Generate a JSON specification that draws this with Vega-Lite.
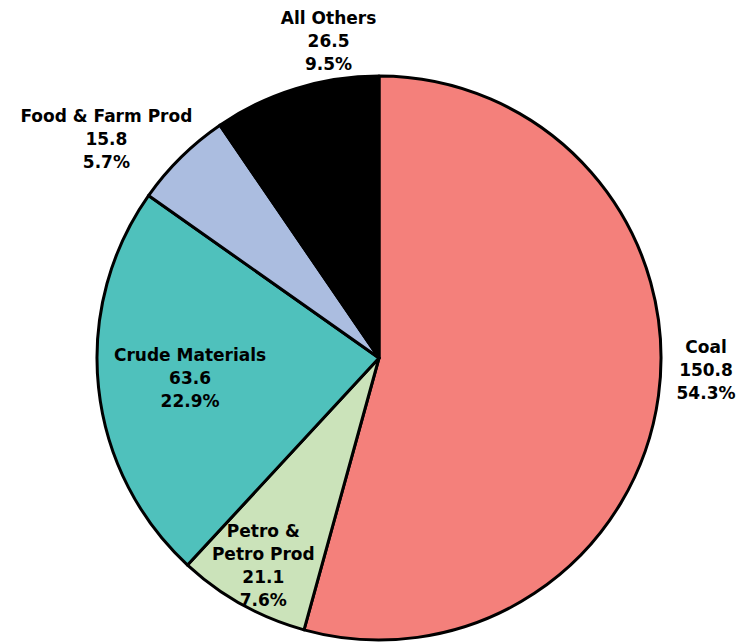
{
  "$schema": "https://vega.github.io/schema/vega-lite/v6.json",
  "width": 720,
  "height": 572,
  "padding": {"left": 19, "top": 72, "right": 0, "bottom": 0},
  "autosize": {"type": "none"},
  "background": "white",
  "config": {"view": {"stroke": null}},
  "data": {
    "values": [
      {"rank": 1, "category": "Coal", "name": "Coal", "value": 150.8, "pct": "54.3%"},
      {"rank": 2, "category": "Petro & Petro Prod", "name": "Petro &\nPetro Prod", "value": 21.1, "pct": "7.6%"},
      {"rank": 3, "category": "Crude Materials", "name": "Crude Materials", "value": 63.6, "pct": "22.9%"},
      {"rank": 4, "category": "Food & Farm Prod", "name": "Food & Farm Prod", "value": 15.8, "pct": "5.7%"},
      {"rank": 5, "category": "All Others", "name": "All Others", "value": 26.5, "pct": "9.5%"}
    ]
  },
  "transform": [
    {"stack": "value", "groupby": [], "sort": [{"field": "rank", "order": "ascending"}], "as": ["v0", "v1"]},
    {"calculate": "(datum.v0 + datum.v1) / 2", "as": "mid"},
    {"calculate": "datum.name + '\\n' + format(datum.value, '.1f') + '\\n' + datum.pct", "as": "label"}
  ],
  "layer": [
    {
      "mark": {"type": "arc", "outerRadius": 282, "stroke": "black", "strokeWidth": 3, "strokeJoin": "round"},
      "encoding": {
        "theta": {"field": "v0", "type": "quantitative", "scale": {"domain": [0, 277.8]}},
        "theta2": {"field": "v1"},
        "color": {
          "field": "category",
          "type": "nominal",
          "legend": null,
          "scale": {
            "domain": ["Coal", "Petro & Petro Prod", "Crude Materials", "Food & Farm Prod", "All Others"],
            "range": ["#F4807B", "#CBE3BA", "#4FC1BC", "#ABBDE0", "#000000"]
          }
        }
      }
    },
    {
      "transform": [{"filter": "datum.category === 'Coal'"}],
      "mark": {"type": "text", "radius": 330, "dy": -54, "dx": 0, "font": "DejaVu Sans", "fontWeight": "bold", "fontSize": 17, "lineBreak": "\n", "lineHeight": 23, "align": "center", "baseline": "middle", "color": "black"},
      "encoding": {"theta": {"field": "mid", "type": "quantitative"}, "text": {"field": "label"}}
    },
    {
      "transform": [{"filter": "datum.category === 'Petro & Petro Prod'"}],
      "mark": {"type": "text", "radius": 238, "dy": -34, "dx": 0, "font": "DejaVu Sans", "fontWeight": "bold", "fontSize": 17, "lineBreak": "\n", "lineHeight": 23, "align": "center", "baseline": "middle", "color": "black"},
      "encoding": {"theta": {"field": "mid", "type": "quantitative"}, "text": {"field": "label"}}
    },
    {
      "transform": [{"filter": "datum.category === 'Crude Materials'"}],
      "mark": {"type": "text", "radius": 190, "dy": -22, "dx": 0, "font": "DejaVu Sans", "fontWeight": "bold", "fontSize": 17, "lineBreak": "\n", "lineHeight": 23, "align": "center", "baseline": "middle", "color": "black"},
      "encoding": {"theta": {"field": "mid", "type": "quantitative"}, "text": {"field": "label"}}
    },
    {
      "transform": [{"filter": "datum.category === 'Food & Farm Prod'"}],
      "mark": {"type": "text", "radius": 330, "dy": -6, "dx": -41, "font": "DejaVu Sans", "fontWeight": "bold", "fontSize": 17, "lineBreak": "\n", "lineHeight": 23, "align": "center", "baseline": "middle", "color": "black"},
      "encoding": {"theta": {"field": "mid", "type": "quantitative"}, "text": {"field": "label"}}
    },
    {
      "transform": [{"filter": "datum.category === 'All Others'"}],
      "mark": {"type": "text", "radius": 330, "dy": -24, "dx": 47, "font": "DejaVu Sans", "fontWeight": "bold", "fontSize": 17, "lineBreak": "\n", "lineHeight": 23, "align": "center", "baseline": "middle", "color": "black"},
      "encoding": {"theta": {"field": "mid", "type": "quantitative"}, "text": {"field": "label"}}
    }
  ]
}
